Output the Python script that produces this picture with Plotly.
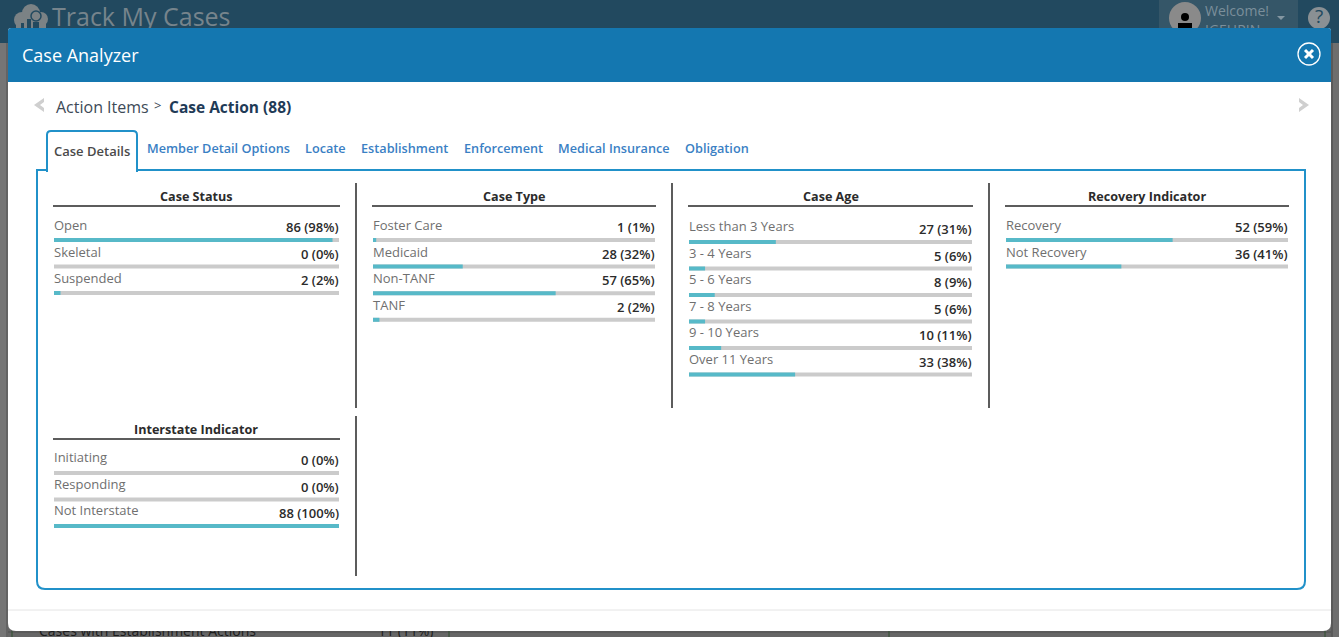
import plotly.graph_objects as go

W = 1339
H = 637
FONT = "Open Sans"

# --- data ---
total_cases = 88

status_labels = ["Open", "Skeletal", "Suspended"]
status_counts = [86, 0, 2]
status_pct = [98, 0, 2]

type_labels = ["Foster Care", "Medicaid", "Non-TANF", "TANF"]
type_counts = [1, 28, 57, 2]
type_pct = [1, 32, 65, 2]

age_labels = ["Less than 3 Years", "3 - 4 Years", "5 - 6 Years", "7 - 8 Years", "9 - 10 Years", "Over 11 Years"]
age_counts = [27, 5, 8, 5, 10, 33]
age_pct = [31, 6, 9, 6, 11, 38]

recovery_labels = ["Recovery", "Not Recovery"]
recovery_counts = [52, 36]
recovery_pct = [59, 41]

interstate_labels = ["Initiating", "Responding", "Not Interstate"]
interstate_counts = [0, 0, 88]
interstate_pct = [0, 0, 100]

tab_labels = ["Member Detail Options", "Locate", "Establishment", "Enforcement", "Medical Insurance", "Obligation"]

# title, labels, counts, pct, left px, right px, first bar centre px, row pitch px, rule y px, label lift px
panels = [
    ("Case Status", status_labels, status_counts, status_pct, 54, 339, 240, 26.5, 206, 15),
    ("Case Type", type_labels, type_counts, type_pct, 373, 655, 240, 26.6, 206, 15),
    ("Case Age", age_labels, age_counts, age_pct, 689, 972, 242, 26.5, 206, 16),
    ("Recovery Indicator", recovery_labels, recovery_counts, recovery_pct, 1006, 1288, 240, 26.5, 206, 15),
    ("Interstate Indicator", interstate_labels, interstate_counts, interstate_pct, 54, 339, 473, 26.5, 439, 16),
]


def px(x):
    return x / W


def py(y):
    return 1 - y / H


def rect(x0, y0, x1, y1, color):
    return dict(type="rect", xref="paper", yref="paper", layer="below",
                x0=px(x0), x1=px(x1), y0=py(y0), y1=py(y1),
                fillcolor=color, line=dict(width=0))


def line(x0, y0, x1, y1, color, width=2):
    return dict(type="line", xref="paper", yref="paper", layer="below",
                x0=px(x0), x1=px(x1), y0=py(y0), y1=py(y1),
                line=dict(color=color, width=width))


def circle(cx, cy, r, color, stroke=None, width=0):
    return dict(type="circle", xref="paper", yref="paper", layer="below",
                x0=px(cx - r), x1=px(cx + r), y0=py(cy + r), y1=py(cy - r),
                fillcolor=color, line=dict(color=stroke or color, width=width))


def path(points, fill=None, stroke=None, width=0, closed=True):
    d = "M " + " L ".join(f"{px(a):.5f},{py(b):.5f}" for a, b in points)
    if closed:
        d += " Z"
    return dict(type="path", xref="paper", yref="paper", layer="below", path=d,
                fillcolor=fill if fill else "rgba(0,0,0,0)",
                line=dict(color=stroke or "rgba(0,0,0,0)", width=width))


def rounded(x0, y0, x1, y1, rt, rb, fill=None, stroke=None, width=0):
    # SVG path in paper coordinates, corners as quadratic curves
    p = lambda a, b: f"{px(a):.5f},{py(b):.5f}"
    d = (f"M {p(x0 + rt, y0)} L {p(x1 - rt, y0)} Q {p(x1, y0)} {p(x1, y0 + rt)} "
         f"L {p(x1, y1 - rb)} Q {p(x1, y1)} {p(x1 - rb, y1)} "
         f"L {p(x0 + rb, y1)} Q {p(x0, y1)} {p(x0, y1 - rb)} "
         f"L {p(x0, y0 + rt)} Q {p(x0, y0)} {p(x0 + rt, y0)} Z")
    return dict(type="path", xref="paper", yref="paper", layer="below", path=d,
                fillcolor=fill if fill else "rgba(0,0,0,0)",
                line=dict(color=stroke or "rgba(0,0,0,0)", width=width))


def label(x, y, text, size, color, anchor="left", weight=400):
    # annotations carry 2px of padding, take it back on the anchored side
    shift = {"left": -2, "right": 2, "center": 0}[anchor]
    return dict(xref="paper", yref="paper", x=px(x), y=py(y), text=text, showarrow=False,
                xanchor=anchor, yanchor="middle", xshift=shift,
                font=dict(family=FONT, size=size, color=color, weight=weight))


NAVY = "#22495f"
LOGO = "#7b8285"
BLUE = "#1477b0"
FRAME = "#2191c9"
DARK_LINE = "#5c5c5c"

shapes = [
    # page behind the dialog
    rect(0, 43, W, H, "#666666"),
    rect(0, 43, 8, H, "#757575"),
    rect(1331, 43, W, H, "#6e6e6e"),
    rect(6, 43, 8, H, "#636363"),
    rect(1331, 43, 1333, H, "#5a5a5a"),
    rect(8, 631, 1331, 633, "#5a5a5a"),
    rect(0, 0, W, 43, NAVY),
    rect(1159, 0, 1298, 43, "#355668"),
    # logo
    circle(22, 20, 8, LOGO), circle(31, 13, 9, LOGO), circle(41, 19, 7, LOGO),
    rect(16, 20, 46, 28, LOGO),
    rect(21, 23, 24, 28, NAVY), rect(27, 19, 31, 28, NAVY),
    circle(36, 16, 5, LOGO, NAVY, 1.5), rect(33, 22, 39, 28, NAVY),
    # user box and help icon
    circle(1185, 18, 16, "#8a8a8a"),
    circle(1185, 17, 4, "#000000"), rect(1178, 23, 1192, 28, "#000000"),
    path([(1277, 16), (1285, 16), (1281, 20)], fill="#8496a1"),
    circle(1319, 18, 11, "#8a9094"),
    # dialog
    rounded(8, 28, 1331, 631, 3, 8, fill="#ffffff"),
    rounded(8, 28, 1331, 82, 3, 0, fill=BLUE),
    line(8, 610, 1331, 610, "#e4e4e4", 1),
    # close icon
    circle(1309, 54, 11, BLUE, "#ffffff", 1.3),
    line(1305, 50, 1313, 58, "#ffffff", 3), line(1313, 50, 1305, 58, "#ffffff", 3),
    # chevrons
    path([(44, 98), (44, 102), (40, 105), (44, 108), (44, 112), (34, 105)], fill="#cfcfcf"),
    path([(1299, 98), (1299, 102), (1303, 105), (1299, 108), (1299, 112), (1309, 105)], fill="#cfcfcf"),
    # tab frame
    rounded(37, 170, 1305, 589, 0, 8, stroke=FRAME, width=2),
    rounded(47, 131, 137, 171, 4, 0, fill="#ffffff", stroke=FRAME, width=2),
    rect(48, 167, 136, 172, "#ffffff"),
    # dividers
    line(356, 183, 356, 408, DARK_LINE), line(672, 183, 672, 408, DARK_LINE),
    line(989, 183, 989, 408, DARK_LINE), line(356, 416, 356, 576, DARK_LINE),
    # page behind, bottom edge
    line(12, 631, 12, H, "#2f4f2f", 1), line(449, 631, 449, H, "#2f4f2f", 1),
    line(889, 631, 889, H, "#2f4f2f", 1), line(1325, 631, 1325, H, "#2f4f2f", 1),
]

annotations = [
    label(22, 55, "Case Analyzer", 18, "#ffffff"),
    label(56, 107, "Action Items", 16, "#3d4a57"),
    label(154, 105, "&gt;", 13, "#3d4a57"),
    label(169, 107, "Case Action (88)", 15.5, "#1f3b57", weight=700),
    label(54, 151, "Case Details", 13, "#4a4a4a", weight=600),
]

tab_left = [147, 305, 361, 464, 558, 685]
for name, left in zip(tab_labels, tab_left):
    annotations.append(label(left, 148, name, 12.7, "#3a80c4", weight=600))

fig = go.Figure()

# --- one small bar chart per panel ---
for k, (title, labels, counts, pct, left, right, first, pitch, rule_y, lift) in enumerate(panels, start=1):
    n = len(labels)
    top = first - pitch / 2
    bottom = top + n * pitch
    xa = "x" if k == 1 else f"x{k}"
    ya = "y" if k == 1 else f"y{k}"

    fig.add_trace(go.Bar(y=labels, x=[total_cases] * n, orientation="h", width=4 / pitch,
                         marker=dict(color="#cbcbcb", line=dict(width=0)),
                         hoverinfo="skip", xaxis=xa, yaxis=ya))
    fig.add_trace(go.Bar(y=labels, x=counts, orientation="h", width=4 / pitch,
                         marker=dict(color="#57b9c8", line=dict(width=0)),
                         hoverinfo="skip", xaxis=xa, yaxis=ya))

    suffix = "" if k == 1 else str(k)
    fig.update_layout({
        f"xaxis{suffix}": dict(domain=[px(left), px(right)], range=[0, total_cases], visible=False,
                               anchor=ya, fixedrange=True),
        f"yaxis{suffix}": dict(domain=[py(bottom), py(top)], type="category", categoryorder="array",
                               categoryarray=labels, range=[n - 0.5, -0.5], visible=False,
                               anchor=xa, fixedrange=True),
    })

    for name, count, share in zip(labels, counts, pct):
        annotations.append(dict(xref=xa, yref=ya, x=0, y=name, text=name, showarrow=False,
                                xanchor="left", yanchor="middle", xshift=-2, yshift=lift,
                                font=dict(family=FONT, size=13, color="#6f6f6f")))
        annotations.append(dict(xref=xa, yref=ya, x=total_cases, y=name, text=f"{count} ({share}%)",
                                showarrow=False, xanchor="right", yanchor="middle", xshift=2, yshift=13,
                                font=dict(family=FONT, size=13, color="#2b2b2b", weight=600)))

    annotations.append(label((left + right) / 2, rule_y - 10, title, 12.6, "#2b2b2b", anchor="center", weight=700))
    shapes.append(line(left - 1, rule_y, right + 1, rule_y, DARK_LINE, 2))

# --- text of the page behind the dialog, clipped by its own axes ---
fig.add_trace(go.Scatter(
    x=[52, 1205, 1205, 1319], y=[20, 12, 24, 18], mode="text",
    text=["Track My Cases", "Welcome!", "IGEHRIN", "?"],
    textposition=["middle right", "middle right", "bottom right", "middle center"],
    textfont=dict(family=FONT, size=[25, 14, 14, 19],
                  color=["#76848c", "#7b8f9b", "#7b8f9b", NAVY]),
    hoverinfo="skip", xaxis="x6", yaxis="y6"))
fig.add_trace(go.Scatter(
    x=[39, 378], y=[632, 632], mode="text",
    text=["Cases with Establishment Actions", "11 (11%)"],
    textposition="middle right",
    textfont=dict(family=FONT, size=14, color="#1c1c1c"),
    hoverinfo="skip", xaxis="x7", yaxis="y7"))

fig.update_layout(
    xaxis6=dict(domain=[0, 1], range=[0, W], visible=False, anchor="y6", fixedrange=True),
    yaxis6=dict(domain=[py(28), 1], range=[28, 0], visible=False, anchor="x6", fixedrange=True),
    xaxis7=dict(domain=[0, 1], range=[0, W], visible=False, anchor="y7", fixedrange=True),
    yaxis7=dict(domain=[0, py(631)], range=[H, 631], visible=False, anchor="x7", fixedrange=True),
)

fig.update_layout(
    width=W, height=H,
    margin=dict(l=0, r=0, t=0, b=0),
    barmode="overlay",
    showlegend=False,
    paper_bgcolor="#666666",
    plot_bgcolor="rgba(0,0,0,0)",
    shapes=shapes,
    annotations=annotations,
)

fig.write_html("out.html", config=dict(displayModeBar=False),
               post_script="document.body.style.margin='0';document.body.style.overflow='hidden';")
